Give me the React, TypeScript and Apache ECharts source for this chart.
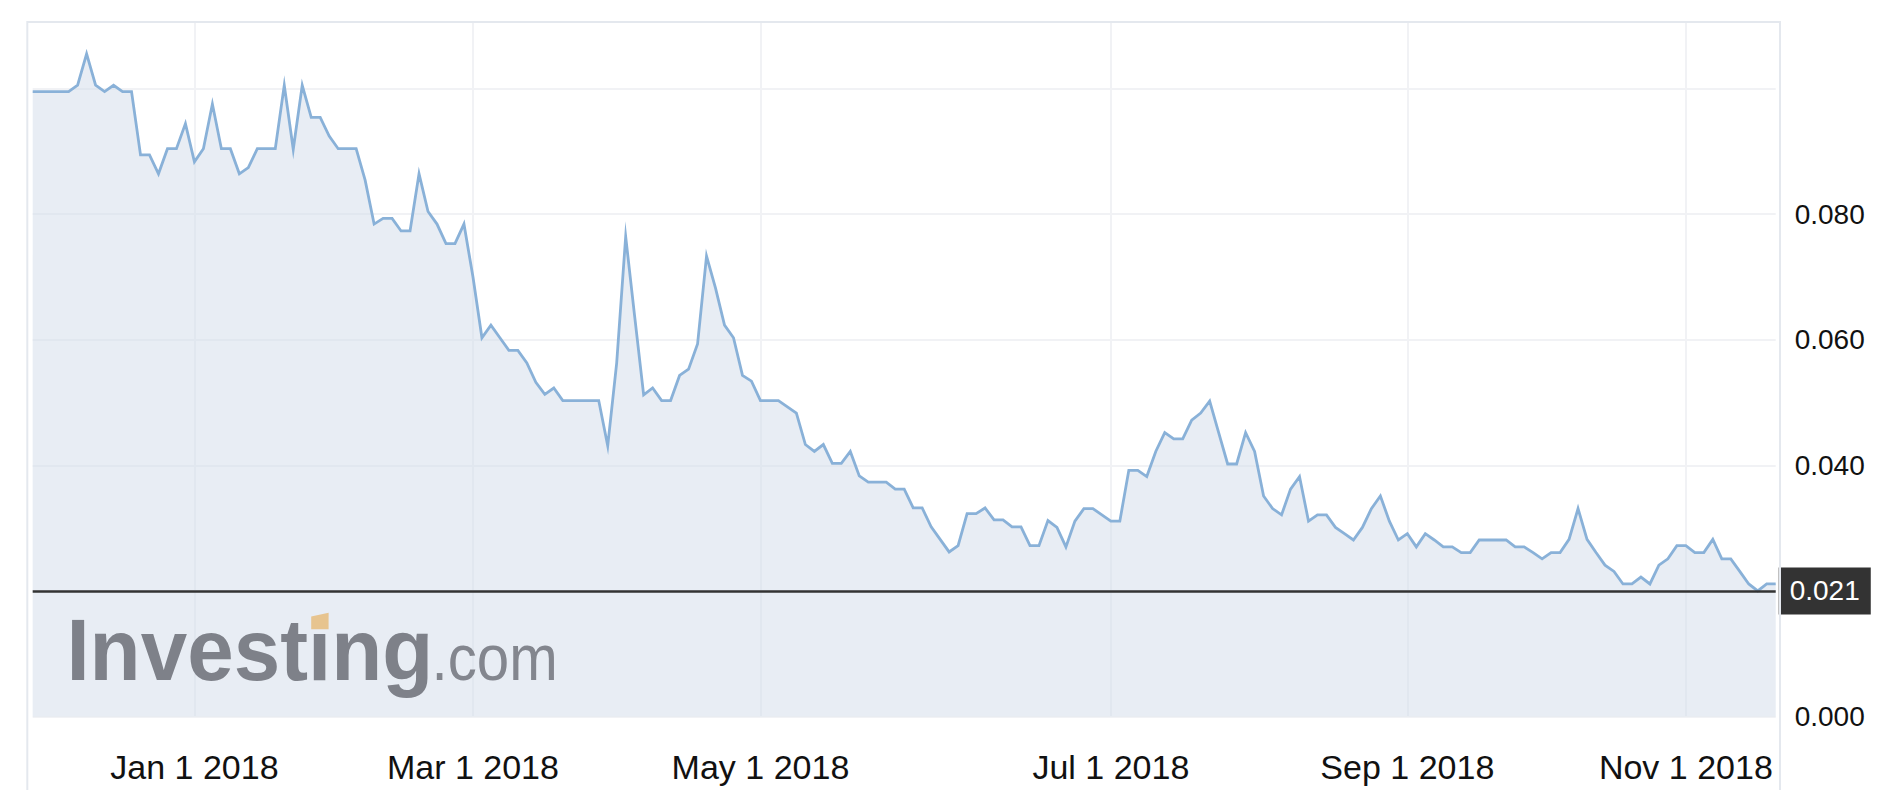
import React, { useEffect, useRef } from "react";
import * as echarts from "echarts";

// Daily closing prices (one value per traded session)
const prices: number[] = [
  0.0995, 0.0995, 0.0995, 0.0995, 0.0995, 0.1005, 0.1055, 0.1005, 0.0995, 0.1005,
  0.0995, 0.0995, 0.0894, 0.0894, 0.0864, 0.0904, 0.0904, 0.0944, 0.0883, 0.0904,
  0.0975, 0.0904, 0.0904, 0.0864, 0.0874, 0.0904, 0.0904, 0.0904, 0.1005, 0.0903,
  0.1005, 0.0954, 0.0954, 0.0924, 0.0904, 0.0904, 0.0904, 0.0854, 0.0784, 0.0793,
  0.0793, 0.0773, 0.0773, 0.0864, 0.0804, 0.0784, 0.0753, 0.0753, 0.0784, 0.0700,
  0.0603, 0.0623, 0.0603, 0.0583, 0.0583, 0.0563, 0.0532, 0.0513, 0.0523, 0.0503,
  0.0503, 0.0503, 0.0503, 0.0503, 0.0431, 0.0563, 0.0764, 0.0637, 0.0512, 0.0523,
  0.0503, 0.0503, 0.0543, 0.0553, 0.0593, 0.0733, 0.0682, 0.0623, 0.0603, 0.0543,
  0.0534, 0.0503, 0.0503, 0.0503, 0.0493, 0.0483, 0.0433, 0.0422, 0.0433, 0.0403,
  0.0403, 0.0422, 0.0383, 0.0373, 0.0373, 0.0373, 0.0362, 0.0362, 0.0332, 0.0332,
  0.0302, 0.0282, 0.0262, 0.0272, 0.0323, 0.0323, 0.0332, 0.0313, 0.0313, 0.0302,
  0.0302, 0.0272, 0.0272, 0.0312, 0.0301, 0.0270, 0.0311, 0.0331, 0.0331, 0.0321,
  0.0311, 0.0311, 0.0392, 0.0392, 0.0382, 0.0422, 0.0452, 0.0442, 0.0442, 0.0472,
  0.0483, 0.0502, 0.0452, 0.0402, 0.0402, 0.0452, 0.0422, 0.0351, 0.0331, 0.0321,
  0.0362, 0.0382, 0.0311, 0.0321, 0.0321, 0.0301, 0.0291, 0.0281, 0.0301, 0.0331,
  0.0351, 0.0311, 0.0281, 0.0291, 0.0270, 0.0291, 0.0281, 0.0270, 0.0270, 0.0261,
  0.0261, 0.0281, 0.0281, 0.0281, 0.0281, 0.0270, 0.0270, 0.0261, 0.0251, 0.0261,
  0.0261, 0.0282, 0.0331, 0.0282, 0.0261, 0.0241, 0.0231, 0.0211, 0.0211, 0.0222,
  0.0211, 0.0241, 0.0251, 0.0272, 0.0272, 0.0261, 0.0261, 0.0282, 0.0251, 0.0251,
  0.0231, 0.0211, 0.0200, 0.0211, 0.0211,
];

// Session index categories
const categories: string[] = prices.map((_, i) => String(i));

// X tick labels and the session index they sit on
const xTickIndex: number[] = [18, 49, 81, 120, 153, 184];
const xTickLabels: string[] = [
  "Jan 1 2018",
  "Mar 1 2018",
  "May 1 2018",
  "Jul 1 2018",
  "Sep 1 2018",
  "Nov 1 2018",
];

// Y tick labels
const yTickValues: number[] = [0, 0.04, 0.06, 0.08];
const yTickLabels: string[] = ["0.000", "0.040", "0.060", "0.080"];

// Last price marker
const lastPrice = 0.021;
const lastPriceLabel = "0.021";

const FONT = "'Liberation Sans', Arial, Helvetica, sans-serif";
const GRID_COLOR = "#f1f2f5";

export default function App() {
  const ref = useRef<HTMLDivElement>(null);

  useEffect(() => {
    if (!ref.current) return;
    const chart = echarts.init(ref.current, null, { renderer: "svg" });

    const option: any = {
      animation: false,
      backgroundColor: "#ffffff",
      grid: {
        left: 32.7,
        right: 108.3,
        top: 22,
        bottom: 73.5,
        containLabel: false,
      },
      xAxis: {
        type: "category",
        data: categories,
        boundaryGap: false,
        axisLine: { show: false },
        axisTick: { show: false },
        axisLabel: {
          interval: (index: number) => xTickIndex.includes(index),
          formatter: (_v: string, index: number) => {
            const k = xTickIndex.indexOf(index);
            return k >= 0 ? xTickLabels[k] : "";
          },
          margin: 33,
          fontSize: 34,
          fontFamily: FONT,
          color: "#111111",
        },
        splitLine: {
          show: true,
          interval: (index: number) => xTickIndex.includes(index),
          lineStyle: { color: GRID_COLOR, width: 2 },
        },
      },
      yAxis: {
        type: "value",
        position: "right",
        min: 0,
        max: 0.11057,
        interval: 0.02,
        axisLine: { show: false },
        axisTick: { show: false },
        axisLabel: {
          margin: 19,
          fontSize: 28,
          fontFamily: FONT,
          color: "#111111",
          formatter: (v: number) => {
            const k = yTickValues.findIndex((t) => Math.abs(t - v) < 1e-9);
            return k >= 0 ? yTickLabels[k] : "";
          },
        },
        splitLine: {
          show: true,
          lineStyle: { color: GRID_COLOR, width: 2 },
        },
      },
      series: [
        {
          type: "line",
          data: prices,
          showSymbol: false,
          symbol: "none",
          lineStyle: { color: "#89b1d8", width: 2.8, join: "miter", miterLimit: 20 },
          areaStyle: { color: "rgb(209,219,234)", opacity: 0.5 },
          z: 2,
          markLine: {
            silent: true,
            symbol: ["none", "none"],
            lineStyle: { color: "#333333", width: 2.6, type: "solid" },
            label: {
              show: true,
              position: "end",
              distance: 3,
              formatter: () => lastPriceLabel,
              backgroundColor: "#333333",
              color: "#ffffff",
              fontSize: 28,
              fontFamily: FONT,
              lineHeight: 28,
              padding: [10, 11, 9, 11],
            },
            data: [{ yAxis: lastPrice }],
          },
        },
      ],
      graphic: [
        {
          type: "rect",
          z: 10,
          silent: true,
          shape: { x: 27.3, y: 22, width: 1752.7, height: 800 },
          style: { fill: "none", stroke: "#e4e8ee", lineWidth: 2 },
        },
        {
          type: "text",
          z: 10,
          silent: true,
          x: 66.4,
          y: 649.5,
          scaleX: 0.95,
          style: {
            text: "Investing",
            font: `bold 88px ${FONT}`,
            fill: "#7e8189",
            verticalAlign: "middle",
            align: "left",
          },
        },
        {
          type: "polygon",
          z: 11,
          silent: true,
          shape: {
            points: [
              [311.2, 616.5],
              [328.6, 612.7],
              [328.6, 629.2],
              [311.2, 629.2],
            ],
          },
          style: { fill: "#e7c48f" },
        },
        {
          type: "text",
          z: 10,
          silent: true,
          x: 431.5,
          y: 657.8,
          scaleX: 0.91,
          style: {
            text: ".com",
            font: `64px ${FONT}`,
            fill: "#83868e",
            verticalAlign: "middle",
            align: "left",
          },
        },
      ],
    };

    chart.setOption(option);
    return () => chart.dispose();
  }, []);

  return (
    <div
      ref={ref}
      style={{
        position: "fixed",
        left: 0,
        top: 0,
        width: 1884,
        height: 790,
        background: "#ffffff",
      }}
    />
  );
}
